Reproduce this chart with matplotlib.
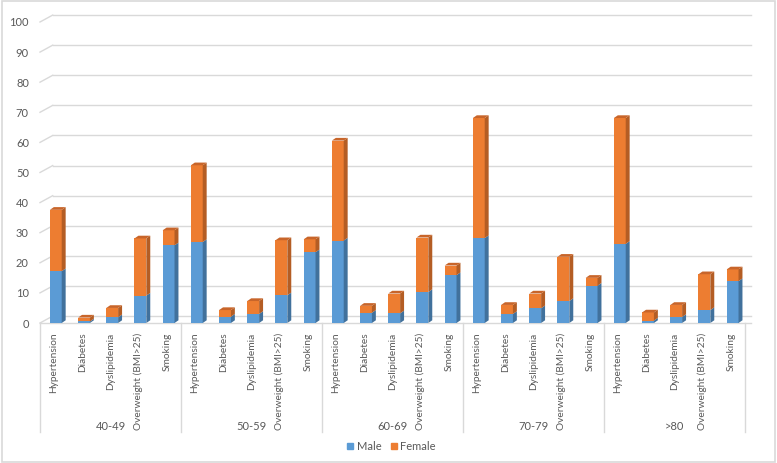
import numpy as np
import matplotlib
matplotlib.use("Agg")
import matplotlib.pyplot as plt
from matplotlib.collections import PolyCollection
from matplotlib.patches import Rectangle

plt.rcParams["font.family"] = ["Lato", "DejaVu Sans"]

groups = ["40-49", "50-59", "60-69", "70-79", ">80"]
factors = ["Hypertension", "Diabetes", "Dyslipidemia", "Overweight (BMI>25)", "Smoking"]

# male and female parts of each stacked bar, per age group
male = [
    [17.2, 0.5, 1.9, 9.1, 25.8],
    [26.9, 2.1, 3.0, 9.2, 23.5],
    [27.4, 3.4, 3.2, 10.3, 15.9],
    [28.2, 3.0, 4.9, 7.3, 12.4],
    [26.3, 0.8, 2.0, 4.3, 13.9],
]
female = [
    [20.4, 1.3, 3.1, 19.0, 5.0],
    [25.5, 2.2, 4.3, 18.3, 4.3],
    [33.2, 2.3, 6.6, 18.1, 3.2],
    [39.9, 3.0, 4.9, 14.7, 2.6],
    [41.8, 2.7, 4.0, 11.9, 3.9],
]

grey = "#595959"
blue, blue_side = "#5B9BD5", "#41719C"
orange, orange_side, orange_top = "#ED7D31", "#B45D24", "#C8652A"

male_v = np.array(male).ravel()
female_v = np.array(female).ravel()
labels = factors * len(groups)
x = np.arange(len(labels))

fig = plt.figure(figsize=(7.77, 4.63), dpi=100)
ax = fig.add_axes([40 / 777, 1 - 323 / 463, 705 / 777, 301 / 463])

ax.set_xlim(-0.5, len(labels) - 0.5)
ax.set_ylim(0, 100)

# back wall gridlines (shifted like the 3D view)
dxg, dyg = 0.45, 2.3
for v in range(0, 101, 10):
    ax.plot([-0.5 + dxg, len(labels) - 0.5 + dxg / 2], [v + dyg, v + dyg],
            color="#D9D9D9", lw=1.0, clip_on=False, zorder=0)
    ax.plot([-0.5, -0.5 + dxg], [v, v + dyg], color="#D9D9D9", lw=1.0,
            clip_on=False, zorder=0)
ax.plot([-0.5, len(labels) - 0.5 + dxg / 2], [0, 0], color="#D9D9D9",
        lw=1.0, clip_on=False, zorder=0)

w = 0.42
off = 0.06
dx, dy = 0.14, 0.9
ax.bar(x + off, male_v, w, color=blue, zorder=2)
ax.bar(x + off, female_v, w, bottom=male_v, color=orange, zorder=2)

sides_b, sides_o, tops = [], [], []
for xi, m, f in zip(x + off, male_v, female_v):
    xr = xi + w / 2
    xl = xi - w / 2
    t = m + f
    sides_b.append([(xr, 0), (xr + dx, dy), (xr + dx, m + dy), (xr, m)])
    sides_o.append([(xr, m), (xr + dx, m + dy), (xr + dx, t + dy), (xr, t)])
    tops.append([(xl, t), (xr, t), (xr + dx, t + dy), (xl + dx, t + dy)])
ax.add_collection(PolyCollection(sides_b, facecolor=blue_side, edgecolor="none", zorder=2))
ax.add_collection(PolyCollection(sides_o, facecolor=orange_side, edgecolor="none", zorder=2))
ax.add_collection(PolyCollection(tops, facecolor=orange_top, edgecolor="none", zorder=2))

for s in ax.spines.values():
    s.set_visible(False)
ax.set_yticks(range(0, 101, 10))
ax.tick_params(axis="y", length=0, labelsize=8, labelcolor=grey, pad=8)
ax.set_xticks(x)
ax.set_xticklabels(labels, rotation=90, fontsize=7.3, color=grey)
ax.tick_params(axis="x", length=0, pad=7)

# group separators and labels
trans = ax.get_xaxis_transform()
for i in range(len(groups) + 1):
    xs = i * 5 - 0.5
    ax.plot([xs, xs], [0, -0.362], color="#D9D9D9", lw=1.0, transform=trans, clip_on=False)
for i, g in enumerate(groups):
    ax.text(i * 5 + 2, -0.345, g, transform=trans, ha="center", va="center",
            fontsize=8, color=grey)

# legend
handles = [plt.Line2D([], [], marker="s", ls="", color=blue, markersize=5),
           plt.Line2D([], [], marker="s", ls="", color=orange, markersize=5)]
fig.legend(handles, ["Male", "Female"], loc="center", bbox_to_anchor=(0.502, 0.035),
           ncol=2, frameon=False, fontsize=8, labelcolor=grey,
           handletextpad=0.1, columnspacing=0.6, handlelength=1.0)

fig.patches.append(Rectangle((0.002, 0.003), 0.996, 0.994, transform=fig.transFigure,
                             fill=False, edgecolor="#D9D9D9", lw=1.2))

fig.savefig("out.png", dpi=100)
